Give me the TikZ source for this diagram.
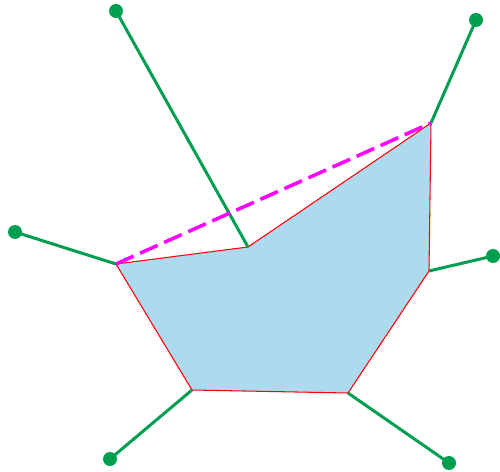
\documentclass[tikz,border=0pt]{standalone}
\usetikzlibrary{positioning}
\definecolor{edgegreen}{RGB}{0,158,80}
\definecolor{areablue}{RGB}{174,218,240}
\definecolor{hullpink}{RGB}{255,0,255}

\begin{document}
\begin{tikzpicture}[
  x=0.02cm, y=-0.02cm,
  dot/.style={circle, fill=edgegreen, inner sep=0pt, minimum size=0.28cm},
  spoke/.style={draw=edgegreen, line width=1.7pt},
  rim/.style={draw=red, line width=0.6pt, fill=areablue},
  hull/.style={draw=hullpink, line width=2pt, dash pattern=on 11pt off 4pt}
]
\useasboundingbox (0,0) rectangle (500,472);

% --- Vértices ---
\coordinate (va) at (116,264);
\coordinate (vb) at (248,247);
\coordinate (vc) at (431,123);
\coordinate (vd) at (429,271);
\coordinate (ve) at (348,393);
\coordinate (vf) at (192,390);

% --- Polígono ---
\path[rim] (va) -- (vb) -- (vc) -- (vd) -- (ve) -- (vf) -- cycle;

% --- Pontos externos ---
\node[dot] (pa) at (15,232)  {};
\node[dot] (pb) at (116,11)  {};
\node[dot] (pc) at (476,20)  {};
\node[dot] (pd) at (493,256) {};
\node[dot] (pe) at (449,463) {};
\node[dot] (pf) at (110,459) {};

% --- Ligações ---
\draw[spoke] (va) -- (pa.center);
\draw[spoke] (vb) -- (pb.center);
\draw[spoke] (vc) -- (pc.center);
\draw[spoke] (vd) -- (pd.center);
\draw[spoke] (ve) -- (pe.center);
\draw[spoke] (vf) -- (pf.center);

% --- Aresta do fecho ---
\draw[hull] (va) -- (vc);

\end{tikzpicture}
\end{document}
